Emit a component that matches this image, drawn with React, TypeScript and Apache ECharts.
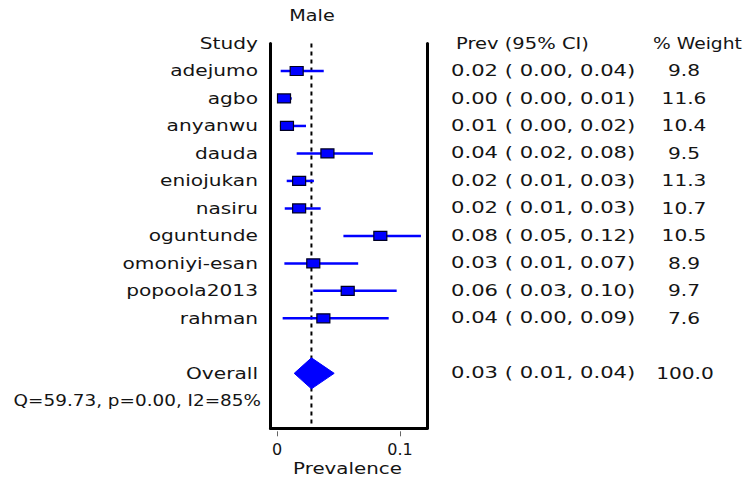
import React, { useEffect, useRef } from "react";
import * as echarts from "echarts";

// ---- data ----
const chartTitle = "Male";
const studies = [
  "adejumo",
  "agbo",
  "anyanwu",
  "dauda",
  "eniojukan",
  "nasiru",
  "oguntunde",
  "omoniyi-esan",
  "popoola2013",
  "rahman",
];
const estimates = [0.016, 0.0057, 0.0081, 0.041, 0.018, 0.018, 0.084, 0.0295, 0.0575, 0.0377];
const lowerCI = [0.003, 0.0005, 0.0024, 0.016, 0.0079, 0.0063, 0.054, 0.006, 0.0295, 0.0046];
const upperCI = [0.038, 0.012, 0.0236, 0.078, 0.03, 0.0355, 0.117, 0.066, 0.0973, 0.0908];
const prevLabels = [
  "0.02 ( 0.00, 0.04)",
  "0.00 ( 0.00, 0.01)",
  "0.01 ( 0.00, 0.02)",
  "0.04 ( 0.02, 0.08)",
  "0.02 ( 0.01, 0.03)",
  "0.02 ( 0.01, 0.03)",
  "0.08 ( 0.05, 0.12)",
  "0.03 ( 0.01, 0.07)",
  "0.06 ( 0.03, 0.10)",
  "0.04 ( 0.00, 0.09)",
];
const weightLabels = ["9.8", "11.6", "10.4", "9.5", "11.3", "10.7", "10.5", "8.9", "9.7", "7.6"];
const overallEstimate = 0.028;
const overallLower = 0.014;
const overallUpper = 0.0465;
const overallLabel = "Overall";
const overallPrev = "0.03 ( 0.01, 0.04)";
const overallWeight = "100.0";
const heterogeneityText = "Q=59.73, p=0.00, I2=85%";
const headerStudy = "Study";
const headerPrev = "Prev (95% CI)";
const headerWeight = "% Weight";
const tickValues = [0, 0.1];
const tickLabels = ["0", "0.1"];
const xAxisName = "Prevalence";

// ---- layout constants ----
const X_MIN = -0.00528;
const X_MAX = 0.12195;
const ROW_MAX = 14;
const OVERALL_ROW = 12;
const HET_ROW = 13;
const FONT = "DejaVu Sans";
const FS = 16;
const SX = 1.26;
const SX_PREV = 1.32;
const TXT = "#141414";
const BLUE = "#0000ff";

type Cell = { text: string; x: number; align: string; sx: number };
type TRow = { row: number; cells: Cell[] };

export default function App() {
  const ref = useRef<HTMLDivElement>(null);

  useEffect(() => {
    if (!ref.current) return;
    const chart = echarts.init(ref.current, null, { renderer: "svg" });

    const tableRows: TRow[] = [];
    tableRows.push({ row: -1, cells: [{ text: chartTitle, x: 312, align: "center", sx: 1.2 }] });
    tableRows.push({
      row: 0,
      cells: [
        { text: headerStudy, x: 258, align: "right", sx: SX },
        { text: headerPrev, x: 456, align: "left", sx: 1.22 },
        { text: headerWeight, x: 653, align: "left", sx: 1.17 },
      ],
    });
    studies.forEach((s, i) => {
      tableRows.push({
        row: i + 1,
        cells: [
          { text: s, x: 258, align: "right", sx: SX },
          { text: prevLabels[i], x: 451, align: "left", sx: SX_PREV },
          { text: weightLabels[i], x: 684, align: "center", sx: SX },
        ],
      });
    });
    tableRows.push({
      row: OVERALL_ROW,
      cells: [
        { text: overallLabel, x: 258, align: "right", sx: SX },
        { text: overallPrev, x: 451, align: "left", sx: SX_PREV },
        { text: overallWeight, x: 685, align: "center", sx: SX },
      ],
    });
    tableRows.push({
      row: HET_ROW,
      cells: [{ text: heterogeneityText, x: 261, align: "right", sx: 1.15 }],
    });

    const ciData = studies.map((s, i) => [estimates[i], lowerCI[i], upperCI[i], i + 1]);

    const option: any = {
      animation: false,
      backgroundColor: "#ffffff",
      grid: { left: 270.5, right: 322, top: 43.5, bottom: 53.7, containLabel: false },
      xAxis: [
        {
          type: "value",
          min: X_MIN,
          max: X_MAX,
          position: "bottom",
          axisLine: { show: true, onZero: false, lineStyle: { color: "#000", width: 3 } },
          axisTick: { show: false },
          axisLabel: { show: false },
          splitLine: { show: false },
        },
        {
          type: "value",
          min: X_MIN,
          max: X_MAX,
          position: "bottom",
          offset: 3,
          axisLine: { show: false, onZero: false },
          axisTick: {
            show: true,
            customValues: tickValues,
            length: 5,
            lineStyle: { color: "#666", width: 1 },
          },
          axisLabel: {
            show: true,
            customValues: tickValues,
            margin: 10,
            fontSize: FS,
            fontFamily: FONT,
            color: TXT,
            formatter: (v: number) => {
              const idx = tickValues.findIndex((t) => Math.abs(t - v) < 1e-9);
              return idx >= 0 ? tickLabels[idx] : "";
            },
          },
          splitLine: { show: false },
        },
      ],
      yAxis: [
        {
          type: "value",
          inverse: true,
          min: 0,
          max: ROW_MAX,
          position: "left",
          axisLine: { show: true, onZero: false, lineStyle: { color: "#000", width: 3 } },
          axisTick: { show: false },
          axisLabel: { show: false },
          splitLine: { show: false },
        },
        {
          type: "value",
          inverse: true,
          min: 0,
          max: ROW_MAX,
          position: "right",
          axisLine: { show: true, onZero: false, lineStyle: { color: "#000", width: 3 } },
          axisTick: { show: false },
          axisLabel: { show: false },
          splitLine: { show: false },
        },
      ],
      graphic: [
        {
          type: "text",
          x: 347.5,
          y: 468,
          scaleX: 1.24,
          style: {
            text: xAxisName,
            align: "center",
            verticalAlign: "middle",
            fontSize: FS,
            fontFamily: FONT,
            fill: TXT,
          },
        },
      ],
      series: [
        {
          type: "line",
          xAxisIndex: 0,
          yAxisIndex: 0,
          data: [
            [overallEstimate, 0],
            [overallEstimate, ROW_MAX],
          ],
          symbol: "none",
          lineStyle: { color: "#000", width: 2, type: [4, 4] },
          z: 1,
          silent: true,
        },
        {
          type: "custom",
          xAxisIndex: 0,
          yAxisIndex: 0,
          clip: false,
          z: 3,
          data: ciData,
          encode: { x: [0, 1, 2], y: 3 },
          renderItem: (params: any, api: any) => {
            const r = api.value(3);
            const pe = api.coord([api.value(0), r]);
            const pl = api.coord([api.value(1), r]);
            const ph = api.coord([api.value(2), r]);
            return {
              type: "group",
              children: [
                {
                  type: "line",
                  shape: { x1: pl[0], y1: pl[1], x2: ph[0], y2: ph[1] },
                  style: { stroke: BLUE, lineWidth: 2.5 },
                },
                {
                  type: "rect",
                  shape: { x: pe[0] - 6.5, y: pe[1] - 4.5, width: 13, height: 9 },
                  style: { fill: BLUE, stroke: "#000022", lineWidth: 1.2 },
                },
              ],
            };
          },
        },
        {
          type: "custom",
          xAxisIndex: 0,
          yAxisIndex: 0,
          clip: false,
          z: 3,
          data: [[overallEstimate, overallLower, overallUpper, OVERALL_ROW]],
          encode: { x: [0, 1, 2], y: 3 },
          renderItem: (params: any, api: any) => {
            const r = api.value(3);
            const pe = api.coord([api.value(0), r]);
            const pl = api.coord([api.value(1), r]);
            const ph = api.coord([api.value(2), r]);
            const h = 15.5;
            return {
              type: "polygon",
              shape: {
                points: [
                  [pl[0], pl[1]],
                  [pe[0], pe[1] - h],
                  [ph[0], ph[1]],
                  [pe[0], pe[1] + h],
                ],
              },
              style: { fill: BLUE, stroke: BLUE, lineWidth: 1, lineJoin: "round" },
            };
          },
        },
        {
          type: "custom",
          xAxisIndex: 0,
          yAxisIndex: 0,
          clip: false,
          silent: true,
          z: 4,
          data: tableRows.map((t) => [0, t.row]),
          encode: { x: 0, y: 1 },
          renderItem: (params: any, api: any) => {
            const t = tableRows[params.dataIndex];
            const y = api.coord([0, api.value(1)])[1] - 0.5;
            return {
              type: "group",
              children: t.cells.map((c) => ({
                type: "text",
                x: c.x,
                y: y,
                scaleX: c.sx,
                style: {
                  text: c.text,
                  x: 0,
                  y: 0,
                  align: c.align,
                  verticalAlign: "middle",
                  fontSize: FS,
                  fontFamily: FONT,
                  fill: TXT,
                },
              })),
            };
          },
        },
      ],
    };

    chart.setOption(option);
    return () => chart.dispose();
  }, []);

  return (
    <div
      ref={ref}
      style={{ position: "absolute", left: 0, top: 0, width: 749, height: 482 }}
    />
  );
}
